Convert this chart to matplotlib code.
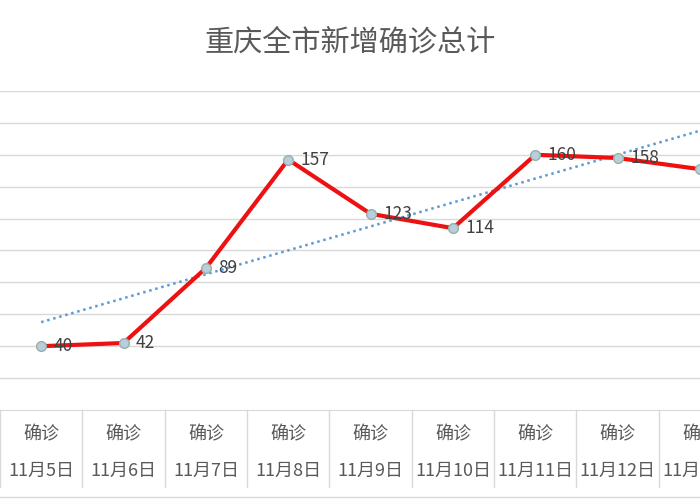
import matplotlib
matplotlib.use("Agg")
import matplotlib.pyplot as plt
import numpy as np
from matplotlib.transforms import blended_transform_factory

plt.rcParams['font.family'] = ['Noto Sans CJK SC', 'DejaVu Sans']

dates = ["11月5日", "11月6日", "11月7日", "11月8日", "11月9日", "11月10日", "11月11日", "11月12日", "11月13日", "11月14日"]
series_name = "确诊"
values = [40, 42, 89, 157, 123, 114, 160, 158, 151, 192]

fig = plt.figure(figsize=(7, 5), dpi=100)
ax = fig.add_axes([0, 0.18, 1, 0.638])
x = np.arange(len(values))
coef = np.polyfit(x, values, 1)
ax.plot(x, np.polyval(coef, x), linestyle=(0, (1, 1.5)), color='#5b9bd5', lw=1.8, zorder=2)
ax.plot(x, values, color='#ee1111', lw=3, marker='o', ms=7,
        mfc='#b7cde0', mec='#9ab0a0', mew=1, zorder=3)
for xi, v in zip(x, values):
    ax.annotate(str(v), (xi, v), xytext=(9, 0), textcoords='offset points',
                va='center', ha='left', fontsize=12.5, color='#404040', zorder=4)
ax.set_xlim(-0.5, 8.0)
ax.set_ylim(0, 200)
ax.set_yticks(np.arange(20, 201, 20))
ax.yaxis.grid(True, color='#d9d9d9', lw=1)
ax.set_axisbelow(True)
ax.tick_params(left=False, labelleft=False, bottom=False, labelbottom=False)
for s in ['left', 'right', 'top']:
    ax.spines[s].set_visible(False)
ax.spines['bottom'].set_color('#d9d9d9')

tr = blended_transform_factory(ax.transData, ax.transAxes)
for i, d in enumerate(dates):
    ax.text(i, -0.075, series_name, transform=tr, ha='center', va='center',
            fontsize=13, color='#595959', clip_on=False)
    ax.text(i, -0.19, d, transform=tr, ha='center', va='center',
            fontsize=13, color='#595959', clip_on=False)
    ax.plot([i - 0.5, i - 0.5], [0, -0.24], transform=tr, color='#d9d9d9',
            lw=1, clip_on=False)
ax.plot([-0.5, 10], [-0.274, -0.274], transform=tr, color='#d9d9d9', lw=1, clip_on=False)

fig.text(0.5, 0.915, "重庆全市新增确诊总计", ha='center', va='center', fontsize=21, color='#595959')
fig.savefig("out.png", dpi=100)
